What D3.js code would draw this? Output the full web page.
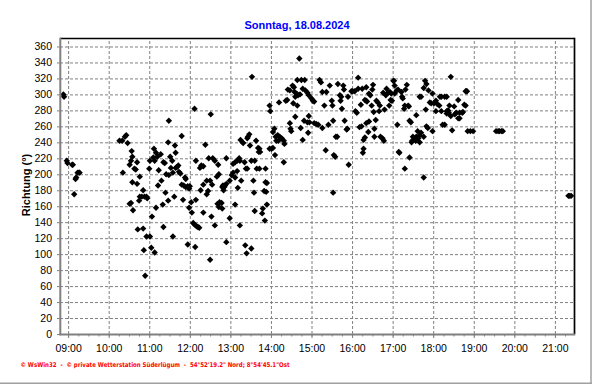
<!DOCTYPE html>
<html>
<head>
<meta charset="utf-8">
<script src="https://cdn.jsdelivr.net/npm/d3@7"></script>
<style>
  body { margin: 0; background: #fff; }
  svg { display: block; }
</style>
</head>
<body>
<div id="chart"></div>
<script>
// Windrichtung, Sonntag 18.08.2024 (Uhrzeit, Richtung in Grad)
var zeiten = [
  "08:53","08:54","08:58","08:59","09:06","09:07","09:11","09:12","09:14","09:16","09:17","09:09",
  "10:16","10:20","10:24","10:26","10:28","10:21","10:34","10:35","10:33","10:31","10:42","10:38",
  "10:40","10:46","10:35","10:42","10:51","10:46","10:49","10:53","10:56","10:57","10:45","10:31",
  "10:33","10:36","10:43","10:51","10:56","11:01","10:52","11:03","11:08","10:54","11:07","11:10",
  "11:06","11:08","11:12","11:17","11:01","11:00","11:14","11:18","11:13","11:20","11:10","11:04",
  "11:21",
  "12:07","12:31","11:29","11:48","11:28","11:38","11:39","11:21","11:23","11:31","11:34","11:32",
  "11:39","11:41","11:43","11:25","11:29","11:35","11:44","11:46","11:53","11:54","11:48","11:51",
  "11:54","11:57","12:00","11:59","11:24","11:37","11:28","11:50","11:59","12:03","12:05","12:07",
  "12:10","12:12","12:14","11:35","11:57","12:08","12:30","12:23","12:09","12:15","12:17","12:20",
  "12:28","12:34","12:37","12:42","12:54","12:40","12:43","12:30","12:25","12:20","12:33","12:16",
  "12:27","12:25","12:48","12:50","12:49","12:51","12:52","12:54","12:59","13:02","13:04","13:07",
  "13:11","13:16","13:10","13:04","13:07","13:10","13:14","13:13","13:21","13:25","13:23","13:15",
  "13:18","13:19","13:25","13:26","13:28","13:29","13:38","13:41","13:43","13:44","13:42","13:31",
  "13:36","13:52","13:43","13:39","13:34","13:35","13:52","13:54","13:50","13:53","13:07","12:59",
  "12:54","13:14","13:22","13:24","13:31","12:37","12:48","12:43","12:41","12:44","12:47","12:32",
  "12:20","12:09","12:02","13:48","13:47","13:51","13:54","13:36","13:32",
  "14:42","14:39","14:45","14:50","14:32","14:34","14:25","14:28","14:35","14:38","14:40","14:36",
  "14:43","14:47","14:51","14:54","14:56","15:00","15:02","15:04","14:24","14:22","14:33","14:39",
  "14:12","13:58","13:59","15:12","15:14","15:16","15:22","15:27","15:39","15:47","15:48","15:42",
  "15:44","15:43","15:30","15:31","15:19","15:54","15:45","14:49","14:54","14:57","15:04","15:07",
  "15:10","14:56","14:36","15:16","15:25","15:32","15:49","15:53","15:52","15:36","15:38","15:21",
  "15:33","15:35","15:55","15:32","14:28","14:29","14:30","14:44","14:55","14:47","14:05","14:03",
  "14:07","14:10","14:13","14:16","14:19","14:20","14:08","14:11","14:06","14:19","13:58","14:01",
  "14:03",
  "16:09","15:59","16:01","16:04","16:09","16:15","16:21","16:31","16:30","16:25","16:27","16:19",
  "16:21","16:22","16:13","16:05","16:07","16:29","16:36","16:38","16:41","16:32","16:40","16:48",
  "16:46","16:51","16:50","16:53","16:56","16:58","16:57","16:59","16:55","17:01","17:02","17:03",
  "17:06","17:08","17:03","17:13","17:14","17:15","17:21","17:19","17:18","17:17","17:23","17:24",
  "17:07","17:25","17:27","17:35","17:40","17:42","17:46","17:48","17:50","17:53","17:59","17:55",
  "17:57","18:01","18:04","18:06","18:09","18:10","18:12","18:20","17:49","18:04","18:12","18:20",
  "18:22","17:50","17:52","17:59","17:37","17:42","17:40","17:46","17:30","17:33","17:35","17:38",
  "17:29","17:34","17:28","17:40","18:14","18:17","16:11","16:14","16:21","16:25","16:24","16:33",
  "16:33","16:42","16:45","16:47","16:19","16:17","16:17","16:16","16:35","17:10","17:09","17:25",
  "17:18","17:46",
  "18:26","18:48","18:49","18:50","18:17","18:37","18:24","18:31","18:46","18:48","18:21","18:23",
  "18:20","18:34","18:39","18:43","18:44","18:26","18:32","18:37","18:39","18:28","18:51","18:55",
  "18:59","19:33","19:36","19:38","19:41","19:43","21:20","21:22","21:24"
];
var richtung = [
  300,297,217,214,212,212,194,196,202,202,202,175,
  242,242,247,249,239,202,229,222,217,212,215,207,
  206,197,190,188,180,172,172,172,172,170,167,163,
  164,155,131,132,122,122,105,108,102,73,232,227,
  221,217,222,225,217,207,205,192,186,162,158,147,
  134,
  282,275,267,248,240,236,227,215,214,222,217,208,
  208,209,211,200,199,202,203,201,196,194,187,186,
  184,185,185,182,177,172,167,168,158,152,139,137,
  135,134,133,122,112,109,93,237,217,208,211,210,
  220,220,217,212,220,197,200,192,192,187,187,180,
  179,175,184,180,186,184,186,188,192,199,202,196,
  183,192,204,213,215,217,217,220,215,207,207,243,
  240,239,245,247,250,236,242,233,232,228,228,217,
  217,207,207,207,192,177,190,189,179,178,162,145,
  115,136,111,101,107,136,157,159,163,165,164,147,
  152,168,165,157,151,142,162,154,322,
  345,318,318,318,311,309,306,305,303,301,299,297,
  300,307,305,302,299,295,292,291,293,292,289,286,
  290,286,279,318,315,303,303,311,313,311,306,299,
  297,292,292,286,286,297,282,267,265,265,264,263,
  262,273,272,258,262,267,267,257,256,247,247,230,
  224,222,212,177,264,257,254,258,252,243,257,253,
  247,249,247,245,242,238,242,242,224,215,232,232,
  233,
  321,304,304,304,307,307,309,312,306,301,299,293,
  292,291,287,279,277,286,292,290,286,278,279,281,
  302,307,299,302,303,301,293,292,286,317,317,311,
  305,306,301,303,297,295,312,306,286,282,286,285,
  262,267,265,274,297,297,308,317,313,305,301,290,
  289,289,292,288,286,297,297,297,281,279,279,279,
  280,260,258,254,254,252,249,247,247,245,247,245,
  242,242,240,240,262,262,259,260,264,266,253,257,
  247,247,245,242,246,243,232,227,268,227,228,221,
  207,196,
  322,304,304,304,297,293,286,285,287,286,279,277,
  276,277,277,277,278,273,275,270,270,255,254,254,
  254,254,254,254,254,254,173,173,173
];
var yTicks = d3.range(0, 361, 20);
var xTickLabels = ["09:00","10:00","11:00","12:00","13:00","14:00","15:00","16:00","17:00","18:00","19:00","20:00","21:00"];
var titel = "Sonntag, 18.08.2024";
var fusszeile = "\u00a9 WsWin32  -  \u00a9 private Wetterstation S\u00fcderl\u00fcgum  -  54\u00b052'19.2\" Nord; 8\u00b054'45.1\"Ost";

var W = 592, H = 384;
var pLeft = 60, pRight = 574.5, pTop = 38.5, pBottom = 334;
var font = "'Liberation Sans', Arial, sans-serif";
var parse = d3.timeParse("%H:%M");

var svg = d3.select("#chart").append("svg").attr("width", W).attr("height", H);

var x = d3.scaleTime().domain([parse("08:48"), parse("21:29")]).range([pLeft, pRight]);
var y = d3.scaleLinear().domain([0, 370]).range([pBottom, pTop]);

var hours = xTickLabels.map(function(s) { return parse(s); });
var minors = d3.timeMinute.every(15).range(parse("09:00"), parse("21:29"));

// Gitter
var gy = svg.append("g").attr("transform", "translate(" + pLeft + ",0)")
  .call(d3.axisLeft(y).tickValues(yTicks.filter(function(v) { return v > 0; }))
    .tickSize(-(pRight - pLeft)).tickFormat(""));
gy.select(".domain").remove();
gy.selectAll("line").attr("stroke", "#808080").attr("stroke-dasharray", "3,2");

var gx = svg.append("g").attr("transform", "translate(0," + pBottom + ")")
  .call(d3.axisBottom(x).tickValues(hours).tickSize(-(pBottom - pTop)).tickFormat(""));
gx.select(".domain").remove();
gx.selectAll("line").attr("stroke", "#808080").attr("stroke-dasharray", "3,2");

// Punkte
var sym = d3.symbol().type(d3.symbolDiamond2).size(26);
svg.append("g").selectAll("path")
  .data(zeiten)
  .join("path")
  .attr("d", sym)
  .attr("transform", function(d, i) {
    return "translate(" + x(parse(d)) + "," + y(richtung[i]) + ")";
  })
  .attr("fill", "#000");

// Rahmen
svg.append("line").attr("x1", pLeft).attr("x2", pRight).attr("y1", pTop).attr("y2", pTop)
  .attr("stroke", "#000").attr("stroke-width", 1.5);
svg.append("line").attr("x1", pRight).attr("x2", pRight).attr("y1", pTop - 0.75).attr("y2", pBottom)
  .attr("stroke", "#000").attr("stroke-width", 1.7);

// Achsen
var ay = svg.append("g").attr("transform", "translate(" + pLeft + ",0)")
  .call(d3.axisLeft(y).tickValues(yTicks).tickSize(3).tickPadding(5));
ay.select(".domain").remove();
ay.selectAll("line").attr("stroke", "#808080");
ay.selectAll("text").attr("font-family", font).attr("font-size", "10.5px").attr("fill", "#000");

var ax = svg.append("g").attr("transform", "translate(0," + pBottom + ")")
  .call(d3.axisBottom(x).tickValues(hours).tickFormat(d3.timeFormat("%H:%M")).tickSize(4).tickPadding(6.5));
ax.select(".domain").remove();
ax.selectAll("line").attr("stroke", "#808080");
ax.selectAll("text").attr("font-family", font).attr("font-size", "10.5px").attr("fill", "#000");

var axm = svg.append("g").attr("transform", "translate(0," + pBottom + ")")
  .call(d3.axisBottom(x).tickValues(minors).tickSize(2.5).tickFormat(""));
axm.select(".domain").remove();
axm.selectAll("line").attr("stroke", "#808080");

svg.append("line").attr("x1", pLeft + 0.3).attr("x2", pLeft + 0.3).attr("y1", pTop - 0.75).attr("y2", pBottom + 1.2)
  .attr("stroke", "#808080").attr("stroke-width", 2);
svg.append("line").attr("x1", pLeft - 0.7).attr("x2", pRight + 0.8).attr("y1", pBottom + 0.5).attr("y2", pBottom + 0.5)
  .attr("stroke", "#808080").attr("stroke-width", 2.2);

// Texte
svg.append("text").attr("x", 297).attr("y", 28.5).attr("text-anchor", "middle")
  .attr("font-family", font).attr("font-size", "11px").attr("font-weight", "bold")
  .attr("fill", "#0000ff").text(titel);

svg.append("text").attr("transform", "translate(30,185) rotate(-90)").attr("text-anchor", "middle")
  .attr("font-family", font).attr("font-size", "11px").attr("font-weight", "bold")
  .attr("fill", "#000").text("Richtung (\u00b0)");

svg.append("text").attr("x", 20.5).attr("y", 366.5)
  .attr("font-family", "'DejaVu Sans', sans-serif").attr("font-size", "6.5px").attr("font-weight", "bold")
  .attr("fill", "#ff0000").attr("textLength", 269).attr("lengthAdjust", "spacingAndGlyphs")
  .attr("xml:space", "preserve").text(fusszeile);

// äußerer Rand
svg.append("line").attr("x1", 591).attr("x2", 591).attr("y1", 0).attr("y2", H)
  .attr("stroke", "#a0a0a0").attr("stroke-width", 1.5);
svg.append("line").attr("x1", 0).attr("x2", W).attr("y1", 383.3).attr("y2", 383.3)
  .attr("stroke", "#a0a0a0").attr("stroke-width", 1.5);
</script>
</body>
</html>
